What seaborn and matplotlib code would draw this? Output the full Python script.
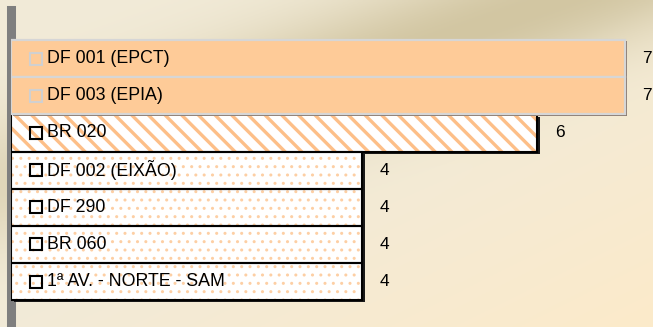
import numpy as np
import pandas as pd
import matplotlib
matplotlib.use("Agg")
import matplotlib.pyplot as plt
import matplotlib.patheffects as pe
from matplotlib.patches import Rectangle
from matplotlib.colors import to_rgb
import seaborn as sns

# data
roads = ["DF 001 (EPCT)", "DF 003 (EPIA)", "BR 020", "DF 002 (EIXÃO)",
         "DF 290", "BR 060", "1ª AV. - NORTE - SAM"]
counts = [7, 7, 6, 4, 4, 4, 4]
styles = ["solid", "solid", "stripes", "dots", "dots", "dots", "dots"]

sns.set_theme(style="white")
plt.rcParams["font.family"] = ["Liberation Sans", "DejaVu Sans"]
plt.rcParams["hatch.linewidth"] = 2.4

fig = plt.figure(figsize=(6.53, 3.27), dpi=100)

# beige gradient background
bg = fig.add_axes([0, 0, 1, 1], zorder=-10)
yy, xx = np.mgrid[0:1:160j, 0:1:320j]
light = np.array(to_rgb("#F2EBD8"))
dark = np.array(to_rgb("#D2C6A2"))
warm = np.array(to_rgb("#FCEBCA"))
d = ((xx - 0.85) * 0.5 + (yy - 0.0) * 0.7) / np.hypot(0.5, 0.7)
band = np.exp(-(d / 0.18) ** 2) * np.clip(1.2 - yy * 1.1, 0, 1)
corner = np.clip((xx + yy - 1.0), 0, 1)
img = light[None, None, :] * (1 - band[..., None]) + dark[None, None, :] * band[..., None]
img = img * (1 - corner[..., None]) + warm[None, None, :] * corner[..., None]
bg.imshow(img, aspect="auto", extent=[0, 1, 1, 0])
bg.set_axis_off()

ax = fig.add_axes([11 / 653, 2 / 327, 642 / 653, 315 / 327])
ax.patch.set_alpha(0)

df = pd.DataFrame({"road": roads, "count": counts})
sns.barplot(data=df, x="count", y="road", color="white", width=1.0,
            orient="h", ax=ax, saturation=1)

for p, style in zip(list(ax.patches), styles):
    z = p.get_zorder()
    if style == "solid":
        p.set_facecolor("#FECB98")
        p.set_edgecolor("#D6D6D6")
        p.set_linewidth(1.6)
        p.set_zorder(z + 0.5)
        p.set_path_effects([pe.SimplePatchShadow(offset=(1.5, -1), shadow_rgbFace="#8A7A70", alpha=1),
                            pe.Normal()])
    else:
        # 3d depth: a shadow-only block behind the bar
        ax.add_patch(Rectangle(p.get_xy(), p.get_width(), p.get_height(), fc="black", lw=0,
                               zorder=z - 0.05,
                               path_effects=[pe.SimplePatchShadow(offset=(2.2, -1.6),
                                                                  shadow_rgbFace="#1a1a1a", alpha=1)]))
        p.set_facecolor("white")
        p.set_edgecolor("#FDBF88" if style == "stripes" else "#FDCFA4")
        p.set_linewidth(0)
        p.set_hatch("\\\\" if style == "stripes" else "..")
        if style == "dots" and hasattr(p, "set_hatch_linewidth"):
            p.set_hatch_linewidth(1.0)
        ax.add_patch(Rectangle(p.get_xy(), p.get_width(), p.get_height(),
                               fill=False, ec="black", lw=1.5, zorder=z + 0.1))

for i, (road, c, style) in enumerate(zip(roads, counts, styles)):
    mcol = "#D0D0D0" if style == "solid" else "black"
    ax.plot(0.29, i, marker="s", ms=8, mfc="none", mec=mcol, mew=1.5, zorder=5)
    ax.text(0.405, i, road, va="center", ha="left", fontsize=12.8, color="black", zorder=5)
    ax.text(c + 0.2, i, str(c), va="center", ha="left", fontsize=12.5, color="black")

ax.set_xlim(0, 642 / 87.7)
ax.set_ylim(7.17, -1.31)
ax.set_xticks([])
ax.set_yticks([])
ax.set_xlabel("")
ax.set_ylabel("")
for s in ["top", "right", "bottom"]:
    ax.spines[s].set_visible(False)
ax.spines["left"].set_color("#7F7F7F")
ax.spines["left"].set_linewidth(6.5)
ax.spines["left"].set_zorder(0.5)

fig.savefig("out.png", dpi=100)
